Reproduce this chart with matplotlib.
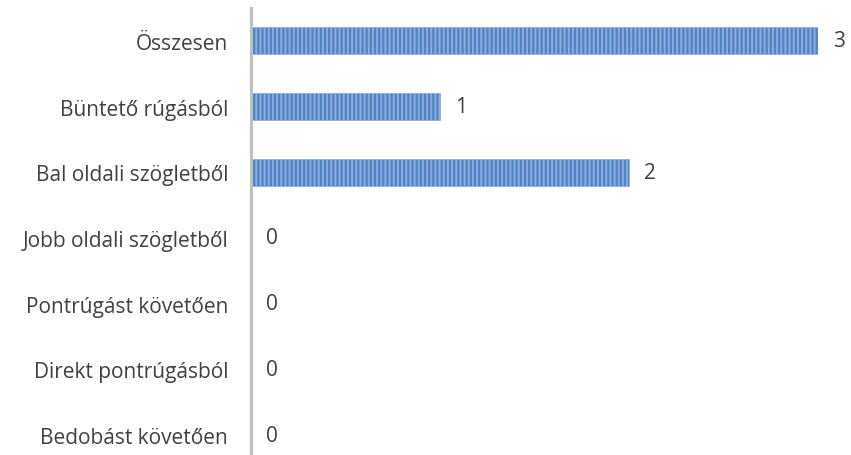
import matplotlib
matplotlib.use("Agg")
import matplotlib.pyplot as plt

categories = ["Összesen", "Büntető rúgásból", "Bal oldali szögletből",
              "Jobb oldali szögletből", "Pontrúgást követően",
              "Direkt pontrúgásból", "Bedobást követően"]
values = [3, 1, 2, 0, 0, 0, 0]

plt.rcParams['font.family'] = ['Open Sans', 'DejaVu Sans']
plt.rcParams['hatch.color'] = '#a5c2ea'
plt.rcParams['hatch.linewidth'] = 1.3

fig = plt.figure(figsize=(8.51, 4.56), dpi=100)
ax = fig.add_axes([251/851, (456-469)/456, 567/851, 460/456])

y = list(range(len(categories)))
bars = ax.barh(y, values, height=0.41, color='#5283c5', hatch='||||',
               edgecolor='#8fb0de', linewidth=0.6)

ax.set_ylim(len(categories) - 0.5, -0.5)
ax.set_xlim(0, 3)
ax.set_yticks(y)
ax.set_yticklabels(categories, fontsize=15, color='#404040')
ax.tick_params(axis='y', length=0, pad=16.5)
ax.set_xticks([])
for s in ['top', 'right', 'bottom']:
    ax.spines[s].set_visible(False)
ax.spines['left'].set_color('#bfbfbf')
ax.spines['left'].set_linewidth(2.2)

for yi, v in zip(y, values):
    ax.annotate(str(v), xy=(v, yi), xytext=(11, 0), textcoords='offset points',
                va='center', ha='left', fontsize=15, color='#404040',
                annotation_clip=False)

fig.savefig("out.png", dpi=100)
